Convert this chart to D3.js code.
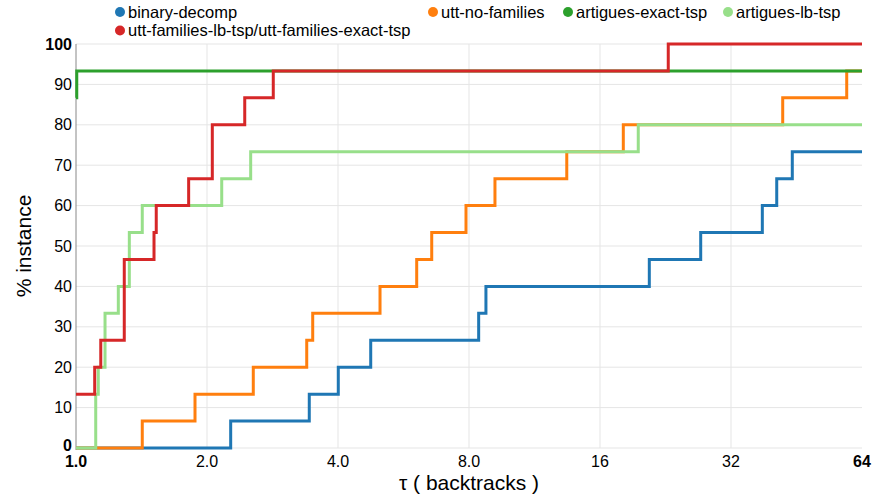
<!DOCTYPE html>
<html>
<head>
<meta charset="utf-8">
<script src="https://cdn.jsdelivr.net/npm/d3@7/dist/d3.min.js"></script>
<style>
  html, body { margin: 0; padding: 0; background: #fff; }
  svg { display: block; font-family: "Liberation Sans", Arial, sans-serif; }
</style>
</head>
<body>
<svg id="chart" width="873" height="502"></svg>
<script>
// ---- data ----
const seriesNames = ["binary-decomp", "utt-no-families", "artigues-exact-tsp", "artigues-lb-tsp", "utt-families-lb-tsp/utt-families-exact-tsp"];
const seriesColors = ["#1f77b4", "#ff7f0e", "#2ca02c", "#98df8a", "#d62728"];

const binaryDecompX = [1, 2.267, 3.436, 4.006, 4.756, 8.42, 8.75, 20.77, 27.26, 37.77, 40.76, 44.26, 64];
const binaryDecompY = [0, 6.67, 13.33, 20, 26.67, 33.33, 40, 46.67, 53.33, 60, 66.67, 73.33, 73.33];

const uttNoFamiliesX = [1, 1.42, 1.877, 2.555, 3.39, 3.499, 4.996, 6.066, 6.568, 7.874, 9.178, 13.42, 18.1, 42.07, 59.03, 64];
const uttNoFamiliesY = [0, 6.67, 13.33, 20, 26.67, 33.33, 40, 46.67, 53.33, 60, 66.67, 73.33, 80, 86.67, 93.33, 93.33];

const artiguesExactX = [1, 1.004, 64];
const artiguesExactY = [86.67, 93.33, 93.33];

const artiguesLbX = [1, 1.11, 1.125, 1.166, 1.251, 1.326, 1.42, 2.162, 2.52, 19.59, 64];
const artiguesLbY = [0, 13.33, 20, 33.33, 40, 53.33, 60, 66.67, 73.33, 80, 80];

const uttFamiliesX = [1, 1.104, 1.14, 1.291, 1.511, 1.529, 1.815, 2.057, 2.442, 2.84, 22.96, 64];
const uttFamiliesY = [13.33, 20, 26.67, 46.67, 53.33, 60, 66.67, 80, 86.67, 93.33, 100, 100];

const xTickValues = [1, 2, 4, 8, 16, 32, 64];
const xTickLabels = ["1.0", "2.0", "4.0", "8.0", "16", "32", "64"];
const yTickValues = [0, 10, 20, 30, 40, 50, 60, 70, 80, 90, 100];

const seriesX = [binaryDecompX, uttNoFamiliesX, artiguesExactX, artiguesLbX, uttFamiliesX];
const seriesY = [binaryDecompY, uttNoFamiliesY, artiguesExactY, artiguesLbY, uttFamiliesY];

(function () {
// ---- layout ----
const svg = d3.select("#chart");
const pLeft = 76, pRight = 862, pTop = 44, pBottom = 448;

const x = d3.scaleLog().base(2).domain([1, 64]).range([pLeft, pRight]);
const y = d3.scaleLinear().domain([0, 100]).range([pBottom, pTop]);

// grid
const grid = svg.append("g");
grid.selectAll("line.hy").data(yTickValues).join("line")
  .attr("x1", pLeft).attr("x2", pRight)
  .attr("y1", d => y(d)).attr("y2", d => y(d))
  .attr("stroke", "#e5e5e5").attr("stroke-width", 1);
grid.selectAll("line.vx").data(xTickValues.slice(1, -1)).join("line")
  .attr("x1", d => x(d)).attr("x2", d => x(d))
  .attr("y1", pTop).attr("y2", pBottom)
  .attr("stroke", "#e5e5e5").attr("stroke-width", 1);

// y axis line
svg.append("line")
  .attr("x1", pLeft).attr("x2", pLeft).attr("y1", pTop).attr("y2", pBottom + 2)
  .attr("stroke", "#888").attr("stroke-width", 1);

// y tick labels
svg.append("g").selectAll("text").data(yTickValues).join("text")
  .attr("x", pLeft - 4)
  .attr("y", d => y(d) + (d === 0 ? -3 : 0))
  .attr("dy", "0.35em")
  .attr("text-anchor", "end")
  .attr("font-size", 16)
  .attr("font-weight", d => (d === 0 || d === 100) ? "bold" : "normal")
  .attr("fill", "#000")
  .text(d => d);

// x tick labels
svg.append("g").selectAll("text").data(xTickValues).join("text")
  .attr("x", d => x(d))
  .attr("y", 467)
  .attr("text-anchor", "middle")
  .attr("font-size", 16)
  .attr("font-weight", (d, i) => (i === 0 || i === xTickValues.length - 1) ? "bold" : "normal")
  .attr("fill", "#000")
  .text((d, i) => xTickLabels[i]);

// axis titles
svg.append("text")
  .attr("transform", `translate(31, ${(pTop + pBottom) / 2}) rotate(-90)`)
  .attr("text-anchor", "middle")
  .attr("font-size", 21)
  .attr("fill", "#000")
  .text("% instance");

svg.append("text")
  .attr("x", (pLeft + pRight) / 2)
  .attr("y", 490)
  .attr("text-anchor", "middle")
  .attr("font-size", 21)
  .attr("fill", "#000")
  .text("τ ( backtracks )");

// lines
const line = d3.line()
  .x(d => x(d[0]))
  .y(d => y(d[1]))
  .curve(d3.curveStepAfter);

const lines = svg.append("g");
seriesNames.forEach((name, i) => {
  const pts = seriesX[i].map((xv, j) => [xv, seriesY[i][j]]);
  lines.append("path")
    .datum(pts)
    .attr("d", line)
    .attr("fill", "none")
    .attr("stroke", seriesColors[i])
    .attr("stroke-width", 3)
    .attr("stroke-linejoin", "miter")
    .attr("stroke-linecap", "butt");
});

// legend
const legendPos = [[120, 12], [433, 12], [568, 12], [728, 12], [120, 30.5]];
const legend = svg.append("g");
seriesNames.forEach((name, i) => {
  const [cx, cy] = legendPos[i];
  legend.append("circle")
    .attr("cx", cx).attr("cy", cy).attr("r", 5)
    .attr("fill", seriesColors[i]);
  legend.append("text")
    .attr("x", cx + 8).attr("y", cy)
    .attr("dy", "0.35em")
    .attr("font-size", 16.5)
    .attr("fill", "#000")
    .text(name);
});
})();
</script>
</body>
</html>
